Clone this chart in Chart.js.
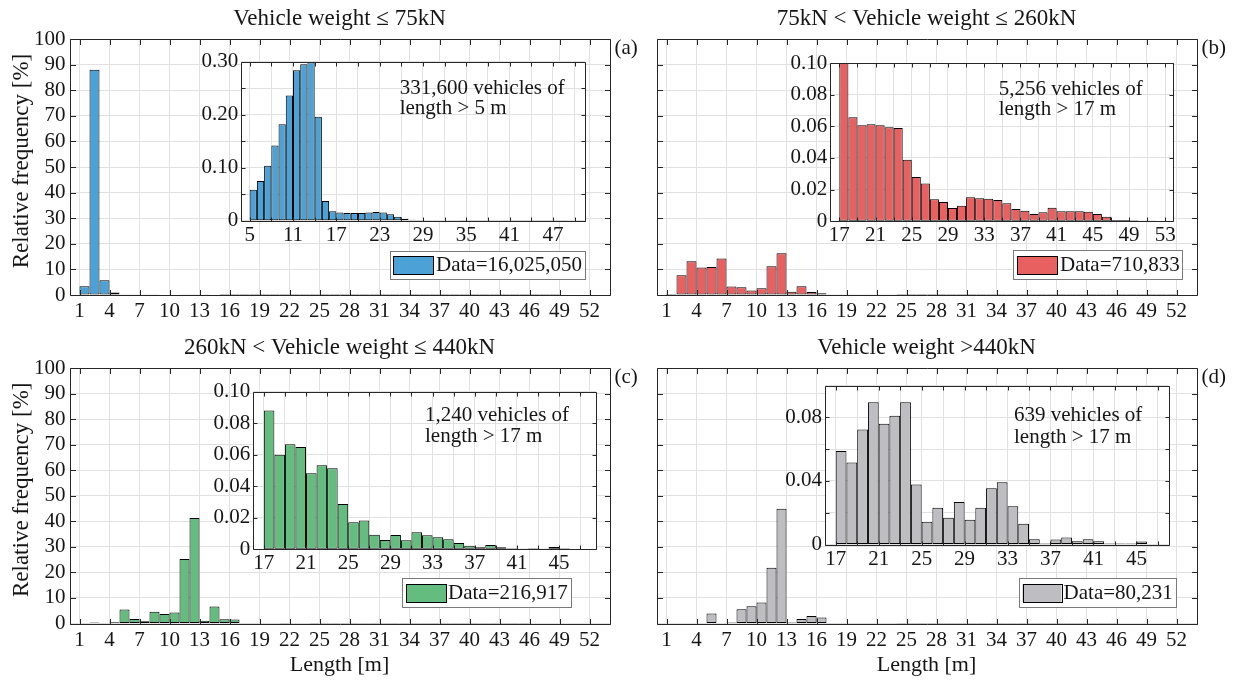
<!DOCTYPE html>
<html><head><meta charset="utf-8">
<script src="https://cdn.jsdelivr.net/npm/chart.js@4.4.1/dist/chart.umd.min.js"></script>
<style>
html,body{margin:0;padding:0;background:#fff;}
#wrap{position:relative;width:1245px;height:683px;overflow:hidden;background:#fff;}
#wrap canvas{position:absolute;left:0;top:0;}
</style></head><body><div id="wrap"></div>
<script>
// ================= DATA =================
const MAIN_X_TICKS = [1,4,7,10,13,16,19,22,25,28,31,34,37,40,43,46,49,52];
const MAIN_Y_TICKS = [0,10,20,30,40,50,60,70,80,90,100];

// main histograms: bins of 1 m starting at 1 m (relative frequency, %)
const MAIN_A_BINS = [1,2,3,4];
const MAIN_A_VALUES = [3.4, 88.0, 5.8, 1.0];
const MAIN_B_BINS = [1,2,3,4,5,6,7,8,9,10,11,12,13,14,15,16];
const MAIN_B_VALUES = [0.4,7.7,13.2,10.7,10.9,14.3,3.3,3.0,1.8,2.6,11.2,16.3,1.3,3.4,1.2,0.65];
const MAIN_C_BINS = [1,2,3,4,5,6,7,8,9,10,11,12,13,14,15,16];
const MAIN_C_VALUES = [0.1,0.4,0.1,0.5,5.5,1.8,0.9,4.6,3.7,4.3,25.2,41.3,1.05,6.7,1.7,1.6];
const MAIN_D_BINS = [1,2,3,4,5,6,7,8,9,10,11,12,13,14,15,16];
const MAIN_D_VALUES = [0,0,0,0,3.9,0,0.4,5.6,6.8,8.2,21.8,44.9,0.4,1.8,2.9,2.3];

// inset histograms (long vehicles), first bin start
const INSET_A_START = 5;
const INSET_A_VALUES = [0.0585,0.0748,0.1038,0.142,0.182,0.236,0.284,0.295,0.299,0.196,0.037,0.0176,0.0157,0.0145,0.0145,0.0145,0.0157,0.0164,0.0157,0.012,0.0075,0.0038,0.002,
  0.0012,0.001,0.0009,0.0008,0.0008,0.0007,0.0006,0.0006,0.0005,0.0005,0.0004,0.0004,0.0004,0.0003,0.0003,0.0003,0.0003,0.0002,0.0002,0.0002,0.0002];
const INSET_B_START = 17;
const INSET_B_VALUES = [0.100,0.0657,0.0606,0.0613,0.0606,0.0594,0.0589,0.0389,0.028,0.0238,0.0139,0.0122,0.0084,0.0099,0.0152,0.0145,0.0143,0.0135,0.0114,0.0078,
  0.0067,0.0046,0.0057,0.0086,0.0063,0.0063,0.0063,0.0061,0.0046,0.0029,0.0008,0.0008,0.0006,0.0002,0.0002];
const INSET_C_START = 17;
const INSET_C_VALUES = [0.088,0.060,0.0666,0.0649,0.0482,0.0533,0.0514,0.0288,0.0171,0.0182,0.0093,0.0059,0.0091,0.0057,0.0108,0.0089,0.0076,0.0063,0.004,0.0023,
  0.0013,0.0027,0.0013,0.0006,0.0002,0.0006,0.0002,0.0015,0.0006];
const INSET_D_START = 17;
const INSET_D_VALUES = [0.0588,0.0515,0.0723,0.0894,0.0759,0.081,0.0894,0.0378,0.0143,0.0231,0.0168,0.0268,0.0156,0.0231,0.0353,0.0391,0.0241,0.0131,0.0033,0.0006,
  0.0031,0.0044,0.0021,0.0033,0.0021,0.0006,0.0006,0.0006,0.0019];

const INSET_A_X_TICKS = [5,8,11,14,17,20,23,26,29,32,35,38,41,44,47,50];
const INSET_A_X_LABELS = ['5','','11','','17','','23','','29','','35','','41','','47',''];
const INSET_A_Y_TICKS = [0,0.05,0.10,0.15,0.20,0.25,0.30];
const INSET_A_Y_LABELS = ['0','','0.10','','0.20','','0.30'];
const INSET_B_X_TICKS = [17,19,21,23,25,27,29,31,33,35,37,39,41,43,45,47,49,51,53];
const INSET_B_X_LABELS = ['17','','21','','25','','29','','33','','37','','41','','45','','49','','53'];
const INSET_CD_X_TICKS = [17,19,21,23,25,27,29,31,33,35,37,39,41,43,45,47];
const INSET_CD_X_LABELS = ['17','','21','','25','','29','','33','','37','','41','','45',''];
const INSET_Y_TICKS = [0,0.02,0.04,0.06,0.08,0.10];
const INSET_BC_Y_LABELS = ['0','0.02','0.04','0.06','0.08','0.10'];
const INSET_D_Y_LABELS = ['0','','0.04','','0.08',''];

const TITLES = ['Vehicle weight \u2264 75kN','75kN < Vehicle weight \u2264 260kN','260kN < Vehicle weight \u2264 440kN','Vehicle weight >440kN'];
const PANEL_TAGS = ['(a)','(b)','(c)','(d)'];
const LEGEND_LABELS = ['Data=16,025,050','Data=710,833','Data=216,917','Data=80,231'];
const INSET_NOTES = [['331,600 vehicles of','length > 5 m'],['5,256 vehicles of','length > 17 m'],['1,240 vehicles of','length > 17 m'],['639 vehicles of','length > 17 m']];
const Y_TITLE = 'Relative frequency [%]';
const X_TITLE = 'Length [m]';

// ================= STYLE =================
const FONT = '"Liberation Serif", "Times New Roman", Times, serif';
const GRID = '#e1e1e1';
const AXIS = '#262626';
const TXT = '#151515';
const COLORS = ['#4ca2d6','#e86060','#64bd7e','#bebec2'];

function binsFrom(start, n){ const r=[]; for(let i=0;i<n;i++) r.push(start+i); return r; }

function makeChart(s){
  const cv = document.createElement('canvas');
  cv.width = 1245; cv.height = 683;
  cv.style.width = '1245px'; cv.style.height = '683px';
  document.getElementById('wrap').appendChild(cv);
  const a = s.area;
  const pts = s.bins.map((b,i)=>({x:b+0.5, y:s.values[i]}));
  const al = v => Math.round(v)+0.5;
  const plugins = [
    {id:'bgfill', beforeDraw(ch){ if(!s.fill) return; const c=ch.ctx, r=ch.chartArea; c.save(); c.fillStyle='#fff'; c.fillRect(r.left,r.top,r.right-r.left,r.bottom-r.top); c.restore(); }},
    {id:'frame', afterDatasetsDraw(ch){
      const c=ch.ctx, r=ch.chartArea, xs=ch.scales.x, ys=ch.scales.y, L=s.tickLen;
      const l=al(r.left), rt=al(r.right), t=al(r.top), b=al(r.bottom);
      c.save(); c.strokeStyle=AXIS; c.lineWidth=1; c.beginPath();
      c.rect(l,t,rt-l,b-t);
      s.xTicks.forEach(v=>{const p=al(xs.getPixelForValue(v)); c.moveTo(p,b); c.lineTo(p,b-L); c.moveTo(p,t); c.lineTo(p,t+L);});
      s.yTicks.forEach(v=>{const p=al(ys.getPixelForValue(v)); c.moveTo(l,p); c.lineTo(l+L,p); c.moveTo(rt,p); c.lineTo(rt-L,p);});
      c.stroke(); c.restore();
    }},
    {id:'texts', afterDraw(ch){
      const c=ch.ctx;
      if (s.legend){
        const g=s.legend;
        c.save();
        c.fillStyle='#fff'; c.fillRect(g.box[0],g.box[1],g.box[2]-g.box[0],g.box[3]-g.box[1]);
        c.strokeStyle='#7a7a7a'; c.lineWidth=1; c.strokeRect(al(g.box[0]),al(g.box[1]),Math.round(g.box[2]-g.box[0]),Math.round(g.box[3]-g.box[1]));
        c.fillStyle=s.color; c.fillRect(g.sw[0],g.sw[1],g.sw[2]-g.sw[0],g.sw[3]-g.sw[1]);
        c.strokeStyle='#000'; c.strokeRect(al(g.sw[0]),al(g.sw[1]),Math.round(g.sw[2]-g.sw[0]),Math.round(g.sw[3]-g.sw[1]));
        c.fillStyle=TXT; c.font=`${g.size}px ${FONT}`; c.textAlign='left'; c.textBaseline='middle';
        c.fillText(ch.data.datasets[0].label, g.tx, g.ty);
        c.restore();
      }
      (s.texts||[]).forEach(it=>{
        c.save(); c.font=`${it.size}px ${FONT}`; c.fillStyle=TXT;
        c.textAlign=it.align||'center'; c.textBaseline=it.base||'middle';
        if(it.rot){ c.translate(it.x,it.y); c.rotate(it.rot); c.fillText(it.t,0,0); }
        else c.fillText(it.t,it.x,it.y);
        c.restore();
      });
    }}
  ];
  return new Chart(cv, {
    type:'bar',
    data:{datasets:[{label:s.label, data:pts, backgroundColor:s.color, borderColor:'#000', borderWidth:1,
      borderSkipped:false, barPercentage:1, categoryPercentage:1, inflateAmount:0}]},
    options:{
      responsive:false, animation:false, devicePixelRatio:1,
      layout:{padding:{left:a.l-s.yw, top:a.t, right:1245-a.r, bottom:683-a.b-s.xh}},
      plugins:{legend:{display:false}, tooltip:{enabled:false}, title:{display:false}},
      scales:{
        x:{type:'linear', position:'bottom', min:s.xMin, max:s.xMax, offset:false,
          grid:{color:GRID, lineWidth:1, drawTicks:false, offset:false}, border:{display:false},
          afterBuildTicks: sc=>{ sc.ticks = s.xTicks.map(v=>({value:v})); },
          afterFit: sc=>{ sc.height = s.xh; },
          ticks:{display:true, autoSkip:false, maxRotation:0, minRotation:0, padding:s.xPad, color:TXT,
            font:{family:FONT, size:s.tickSize}, callback:(v,i)=>s.xLabels[i]}},
        y:{type:'linear', position:'left', min:s.yMin, max:s.yMax,
          grid:{color:GRID, lineWidth:1, drawTicks:false}, border:{display:false},
          afterBuildTicks: sc=>{ sc.ticks = s.yTicks.map(v=>({value:v})); },
          afterFit: sc=>{ sc.width = s.yw; },
          ticks:{display:s.yLabels!==null, autoSkip:false, padding:s.yPad, color:TXT,
            font:{family:FONT, size:s.tickSize}, callback:(v,i)=>s.yLabels?s.yLabels[i]:''}}
      }
    },
    plugins
  });
}

// ================= LAYOUT =================
const MAIN_AREAS = [
  {l:69.5, t:39, r:609.5, b:295},
  {l:656.5, t:39, r:1196.5, b:295},
  {l:69.5, t:368, r:609.5, b:623.5},
  {l:656.5, t:368, r:1196.5, b:623.5}
];
const INSET_AREAS = [
  {l:241.3, t:61.7, r:584.7, b:220.7},
  {l:830.3, t:63, r:1172.5, b:221.3},
  {l:253.3, t:391.7, r:596, b:549.3},
  {l:825, t:385.5, r:1168.6, b:544.5}
];
const INSET_XRANGE = [[3.84,51.4],[16,53.8],[16,48.5],[16,48]];
const INSET_YMAX = [0.30,0.10,0.10,0.10];
const LEGENDS = [
  {box:[390,250.7,585,279], sw:[393,256,433,274], tx:436, ty:265.5, size:21},
  {box:[1013,250,1182,279.3], sw:[1017,256,1057,274], tx:1060, ty:265.5, size:21},
  {box:[402.3,578.3,571.7,607.3], sw:[406,584,446,602], tx:448, ty:593.5, size:21},
  {box:[1019,578,1176,607], sw:[1022.5,584,1061.4,602], tx:1063.6, ty:593.5, size:21}
];
const NOTE_POS = [[399.7,88.3,108.3],[998.7,89.7,109.7],[425,415,436.7],[1014,415.3,437]];

const mainBins = [MAIN_A_BINS, MAIN_B_BINS, MAIN_C_BINS, MAIN_D_BINS];
const mainVals = [MAIN_A_VALUES, MAIN_B_VALUES, MAIN_C_VALUES, MAIN_D_VALUES];
const insStart = [INSET_A_START, INSET_B_START, INSET_C_START, INSET_D_START];
const insVals = [INSET_A_VALUES, INSET_B_VALUES, INSET_C_VALUES, INSET_D_VALUES];
const insXT = [INSET_A_X_TICKS, INSET_B_X_TICKS, INSET_CD_X_TICKS, INSET_CD_X_TICKS];
const insXL = [INSET_A_X_LABELS, INSET_B_X_LABELS, INSET_CD_X_LABELS, INSET_CD_X_LABELS];
const insYT = [INSET_A_Y_TICKS, INSET_Y_TICKS, INSET_Y_TICKS, INSET_Y_TICKS];
const insYL = [INSET_A_Y_LABELS, INSET_BC_Y_LABELS, INSET_BC_Y_LABELS, INSET_D_Y_LABELS];

for (let k=0;k<4;k++){
  const A = MAIN_AREAS[k];
  const cx = (A.l+A.r)/2;
  const iBins = binsFrom(insStart[k], insVals[k].length);
  const texts = [
    {t:TITLES[k], x:cx, y:A.t-20, size:23},
    {t:PANEL_TAGS[k], x:A.r+5, y:A.t+9, size:21, align:'left'}
  ];
  if (k%2===0) texts.push({t:Y_TITLE, x:22, y:(A.t+A.b)/2-6, size:23, rot:-Math.PI/2});
  if (k>=2) texts.push({t:X_TITLE, x:cx, y:665, size:22});
  makeChart({
    area:A, bins:mainBins[k].concat(iBins), values:mainVals[k].concat(insVals[k]),
    color:COLORS[k], label:LEGEND_LABELS[k], xMin:0, xMax:54, yMin:0, yMax:100,
    xTicks:MAIN_X_TICKS, xLabels:MAIN_X_TICKS.map(String), yTicks:MAIN_Y_TICKS,
    yLabels:(k%2===0)?MAIN_Y_TICKS.map(String):null,
    xPad:4, yPad:4, xh:32, yw:62, tickSize:21, tickLen:5.5, fill:false, legend:LEGENDS[k], texts
  });
  const N = NOTE_POS[k];
  makeChart({
    area:INSET_AREAS[k], bins:iBins, values:insVals[k], color:COLORS[k], label:LEGEND_LABELS[k],
    xMin:INSET_XRANGE[k][0], xMax:INSET_XRANGE[k][1], yMin:0, yMax:INSET_YMAX[k],
    xTicks:insXT[k], xLabels:insXL[k], yTicks:insYT[k], yLabels:insYL[k],
    xPad:2, yPad:3, xh:30, yw:48, tickSize:21, tickLen:4, fill:true, legend:null,
    texts:[{t:INSET_NOTES[k][0], x:N[0], y:N[1], size:21, align:'left'},
           {t:INSET_NOTES[k][1], x:N[0], y:N[2], size:21, align:'left'}]
  });
}
</script></body></html>
